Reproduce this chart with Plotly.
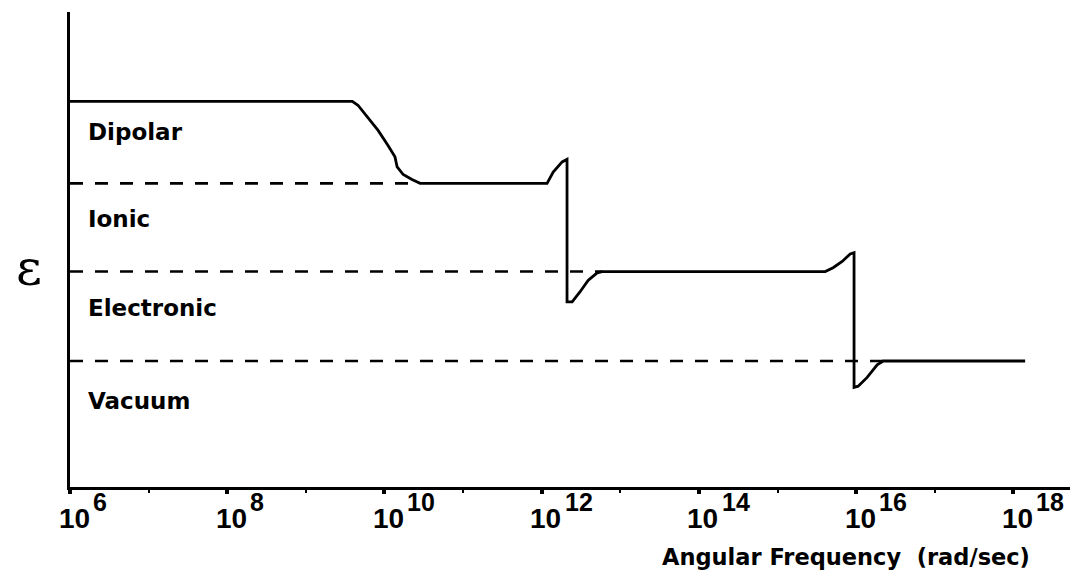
import plotly.graph_objects as go

# Dielectric response curve: angular frequency (rad/s) vs relative permittivity
omega = [1e6, 3.9e9, 4.6e9, 6.6e9, 8.3e9, 1.11e10, 1.36e10, 1.45e10, 1.73e10,
         2.24e10, 2.84e10, 1.17e12, 1.40e12, 1.82e12, 2.10e12, 2.10e12, 2.44e12,
         3.08e12, 3.89e12, 5.07e12, 5.86e12, 4.04e15, 5.09e15, 6.64e15, 8.4e15,
         9.4e15, 9.4e15, 1.06e16, 1.38e16, 1.85e16, 2.21e16, 1.41e18]
epsilon = [3.06, 3.06, 3.03, 2.91, 2.83, 2.71, 2.62, 2.54, 2.48,
           2.44, 2.41, 2.41, 2.50, 2.58, 2.60, 1.47, 1.47,
           1.55, 1.64, 1.70, 1.71, 1.71, 1.74, 1.79, 1.85,
           1.86, 0.79, 0.80, 0.87, 0.97, 1.00, 1.00]

# Plateau levels marked by dashed guides, and where each guide ends
level_eps = [2.41, 1.71, 1.00]
level_end = [2.5e10, 5.86e12, 2.21e16]

# Mechanism labels and their heights
mechanisms = ["Dipolar", "Ionic", "Electronic", "Vacuum"]
mechanism_eps = [2.82, 2.13, 1.42, 0.68]

tick_exponents = [6, 8, 10, 12, 14, 16, 18]
minor_exponents = [7, 9, 11, 13, 15, 17]

x_title = "Angular Frequency&nbsp;&nbsp;(rad/sec)"
y_title = "ε"

X0 = 1e6
LABEL_FONT = dict(family="DejaVu Sans", size=23, color="black")

fig = go.Figure()

for lev, end in zip(level_eps, level_end):
    fig.add_trace(go.Scatter(
        x=[X0, end], y=[lev, lev], mode="lines",
        line=dict(color="black", width=2.6, dash="13px,12px"),
        hoverinfo="skip", showlegend=False))

fig.add_trace(go.Scatter(
    x=omega, y=epsilon, mode="lines",
    line=dict(color="black", width=2.8),
    showlegend=False))

annotations = []
for name, ey in zip(mechanisms, mechanism_eps):
    annotations.append(dict(
        x=6.2, y=ey, xref="x", yref="y", text="<b>%s</b>" % name,
        showarrow=False, xanchor="left", yanchor="middle", font=LABEL_FONT))

# Power-of-ten tick labels: base and exponent drawn as separate texts
for k in tick_exponents:
    annotations.append(dict(
        x=k, y=-0.066, xref="x", yref="paper", text="<b>10</b>",
        showarrow=False, xanchor="center", yanchor="middle", xshift=4,
        font=dict(family="Liberation Sans", size=28, color="black")))
    annotations.append(dict(
        x=k, y=-0.032, xref="x", yref="paper", text="<b>%d</b>" % k,
        showarrow=False, xanchor="left", yanchor="middle", xshift=21,
        font=dict(family="Liberation Sans", size=25, color="black")))

annotations.append(dict(
    x=0.962, y=-0.147, xref="paper", yref="paper", text="<b>%s</b>" % x_title,
    showarrow=False, xanchor="right", yanchor="middle",
    font=dict(family="DejaVu Sans", size=22.5, color="black")))

annotations.append(dict(
    x=-0.041, y=0.462, xref="paper", yref="paper", text=y_title,
    showarrow=False, xanchor="center", yanchor="middle",
    font=dict(family="DejaVu Serif", size=50, color="black")))

fig.update_layout(
    width=1078, height=577,
    margin=dict(l=70, r=8, t=12, b=90),
    paper_bgcolor="white", plot_bgcolor="white",
    annotations=annotations,
    showlegend=False,
)

fig.update_xaxes(
    type="log", range=[6, 18.72],
    showline=True, linecolor="black", linewidth=3, mirror=False,
    showgrid=False, zeroline=False, showticklabels=False,
    ticks="outside", ticklen=4, tickwidth=4, tickcolor="black",
    tickvals=[10 ** k for k in tick_exponents],
    minor=dict(tickvals=[10 ** k for k in minor_exponents], ticks="outside",
               ticklen=3, tickwidth=2, tickcolor="black", showgrid=False),
)
fig.update_yaxes(
    range=[0, 3.77],
    showline=True, linecolor="black", linewidth=3,
    showgrid=False, zeroline=False, showticklabels=False, ticks="",
)

fig.write_html("out.html")
